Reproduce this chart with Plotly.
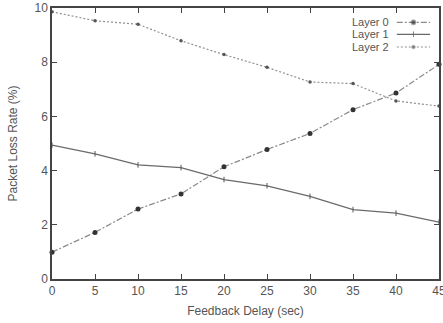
import plotly.graph_objects as go

delay = [0, 5, 10, 15, 20, 25, 30, 35, 40, 45]
layer0 = [0.99, 1.72, 2.58, 3.14, 4.14, 4.78, 5.37, 6.25, 6.86, 7.92]
layer1 = [4.94, 4.62, 4.21, 4.11, 3.67, 3.44, 3.05, 2.56, 2.43, 2.10]
layer2 = [9.86, 9.53, 9.40, 8.79, 8.28, 7.81, 7.27, 7.21, 6.57, 6.38]
names = ["Layer 0", "Layer 1", "Layer 2"]
x_ticks = [0, 5, 10, 15, 20, 25, 30, 35, 40, 45]
y_ticks = [0, 2, 4, 6, 8, 10]

FONT = "Liberation Sans, Arial, Helvetica, sans-serif"
TXT = "#555555"
AX = "#444444"

styles = [
    dict(line=dict(color="#8a8a8a", width=1.2, dash="6px,2px,2px,2px"),
         marker=dict(symbol="circle", size=5, color="#333333")),
    dict(line=dict(color="#6a6a6a", width=1.3, dash="solid"),
         marker=dict(symbol="line-ns-open", size=4, color="#555555", line=dict(width=1, color="#555555"))),
    dict(line=dict(color="#8f8f8f", width=1.2, dash="2px,2px"),
         marker=dict(symbol="circle", size=3.5, color="#555555")),
]

fig = go.Figure()
for name, ys, st in zip(names, [layer0, layer1, layer2], styles):
    fig.add_trace(go.Scatter(x=delay, y=ys, mode="lines+markers", name=name, cliponaxis=False,
                             line=st["line"], marker=st["marker"], showlegend=False))

# custom gnuplot-style legend (text left of sample)
leg_y = [0.947, 0.903, 0.856]
for name, ly, st in zip(names, leg_y, styles):
    m = dict(st["marker"])
    m["size"] = [0, m["size"], 0]
    fig.add_trace(go.Scatter(x=[0.891, 0.934, 0.977], y=[ly, ly, ly], xaxis="x2", yaxis="y2",
                             mode="lines+markers", line=st["line"], marker=m,
                             showlegend=False, hoverinfo="skip"))
    fig.add_annotation(x=0.876, y=ly, xref="paper", yref="paper", text=name,
                       xanchor="right", yanchor="middle", showarrow=False,
                       font=dict(family=FONT, size=11, color=TXT))

axis_common = dict(showgrid=False, zeroline=False, showline=True, linecolor=AX, linewidth=1.5,
                   mirror="ticks", ticks="inside", ticklen=5, tickcolor=AX, tickwidth=1,
                   automargin=False, ticklabeloverflow="allow",
                   tickfont=dict(family=FONT, size=12, color=TXT))

fig.update_layout(
    width=443, height=323,
    margin=dict(l=52, r=4, t=8, b=44),
    paper_bgcolor="white", plot_bgcolor="white",
    xaxis=dict(range=[0, 45], tickvals=x_ticks, **axis_common,
               title=dict(text="Feedback Delay (sec)", font=dict(family=FONT, size=12, color=TXT), standoff=9)),
    yaxis=dict(range=[0, 10], tickvals=y_ticks, **axis_common,
               title=dict(text="Packet Loss Rate (%)", font=dict(family=FONT, size=12, color=TXT), standoff=14)),
    xaxis2=dict(range=[0, 1], overlaying="x", visible=False),
    yaxis2=dict(range=[0, 1], overlaying="y", visible=False),
    showlegend=False,
)

fig.write_html("out.html", config={"displayModeBar": False},
               post_script="document.body.style.margin='0';document.body.style.overflow='hidden';")
